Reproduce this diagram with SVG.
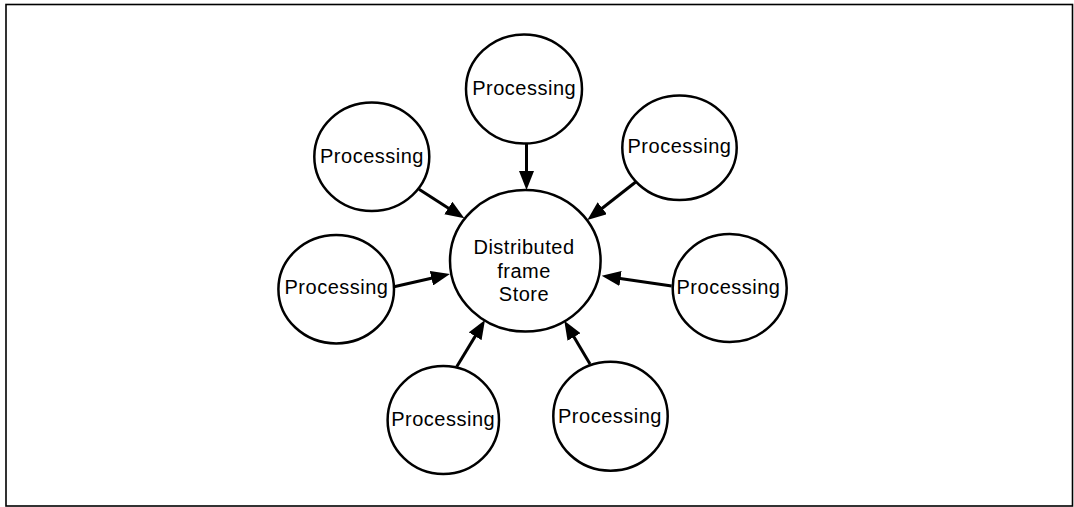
<svg xmlns="http://www.w3.org/2000/svg" width="1074" height="507" viewBox="0 0 1074 507">
<style>
.node{fill:#fff;stroke:#000;stroke-width:2.5}
.lbl{font-family:"Liberation Sans",Arial,sans-serif;font-size:20px;letter-spacing:0.5px;text-anchor:middle;fill:#000}
.conn{stroke:#000;stroke-width:3;fill:none;marker-end:url(#ah)}
</style>
<defs>
<marker id="ah" markerUnits="userSpaceOnUse" markerWidth="19" markerHeight="15" refX="9" refY="7.5" orient="auto">
<path d="M0,0 L19,7.5 L0,15 z" fill="#000"/>
</marker>
</defs>
<rect x="6" y="4.5" width="1066.5" height="501.5" fill="#fff" stroke="#000" stroke-width="1.6"/>
<g id="connectors">
<line class="conn" x1="526.5" y1="143.5" x2="526.5" y2="180"/>
<line class="conn" x1="419" y1="189.3" x2="455.9" y2="212.9"/>
<line class="conn" x1="636" y1="181.7" x2="595.2" y2="213.8"/>
<line class="conn" x1="394" y1="286.7" x2="440.2" y2="276.2"/>
<line class="conn" x1="671.7" y1="286" x2="611.6" y2="277.2"/>
<line class="conn" x1="456.7" y1="366.7" x2="479.8" y2="328.6"/>
<line class="conn" x1="590" y1="364" x2="569.4" y2="329.3"/>
</g>
<g id="store">
<ellipse class="node" cx="525.3" cy="260.8" rx="75.3" ry="70.8"/>
<text class="lbl" x="524" y="254.3">Distributed</text>
<text class="lbl" x="524" y="277.7">frame</text>
<text class="lbl" x="524" y="300.5">Store</text>
</g>
<g id="p-top">
<ellipse class="node" cx="524" cy="89" rx="58" ry="54.5"/>
<text class="lbl" x="524.2" y="95">Processing</text>
</g>
<g id="p-upper-left">
<ellipse class="node" cx="371.8" cy="156.7" rx="57.5" ry="54.3"/>
<text class="lbl" x="372" y="163.3">Processing</text>
</g>
<g id="p-upper-right">
<ellipse class="node" cx="679.5" cy="147.8" rx="57.2" ry="52.2"/>
<text class="lbl" x="679.5" y="152.7">Processing</text>
</g>
<g id="p-left">
<ellipse class="node" cx="336.2" cy="289.2" rx="57.8" ry="54.2"/>
<text class="lbl" x="336.5" y="294.3">Processing</text>
</g>
<g id="p-right">
<ellipse class="node" cx="729.7" cy="288" rx="57" ry="54"/>
<text class="lbl" x="728.5" y="294">Processing</text>
</g>
<g id="p-bottom-left">
<ellipse class="node" cx="443.3" cy="420" rx="55.7" ry="54"/>
<text class="lbl" x="443.2" y="426">Processing</text>
</g>
<g id="p-bottom-right">
<ellipse class="node" cx="610.5" cy="416.2" rx="57.2" ry="54.5"/>
<text class="lbl" x="610" y="423">Processing</text>
</g>
</svg>
